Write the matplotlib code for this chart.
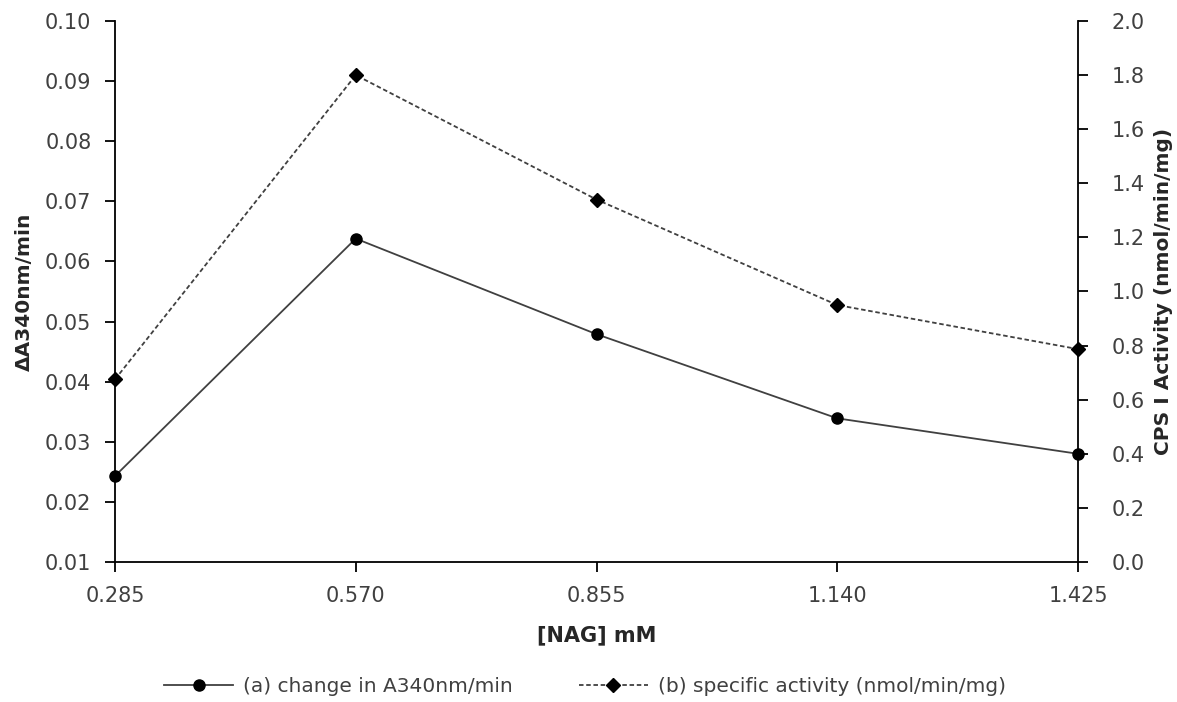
import matplotlib
matplotlib.use("Agg")
import matplotlib.pyplot as plt

plt.rcParams['font.family'] = ['DejaVu Sans']

nag_labels = ["0.285", "0.570", "0.855", "1.140", "1.425"]
delta_a340 = [0.0243, 0.0638, 0.0479, 0.0339, 0.0280]
specific_activity = [0.675, 1.80, 1.34, 0.95, 0.787]

W, H = 1177, 702
fig = plt.figure(figsize=(W/100, H/100), dpi=100)
L, R, T, B = 115, 1078, 21, 562
ax = fig.add_axes([L/W, 1 - B/H, (R-L)/W, (B-T)/H])
ax2 = ax.twinx()

x = list(range(len(nag_labels)))
l1, = ax.plot(x, delta_a340, color='#404040', lw=1.3, marker='o', markersize=8,
              markerfacecolor='black', markeredgecolor='black', zorder=3, clip_on=False)
l2, = ax2.plot(x, specific_activity, color='#404040', lw=1.3, ls=(0, (2.5, 1.5)),
               marker='D', markersize=7, markerfacecolor='black', markeredgecolor='black',
               zorder=3, clip_on=False)

ax.set_xlim(0, len(nag_labels) - 1)
ax.set_xticks(x)
ax.set_xticklabels(nag_labels)
ax.set_ylim(0.01, 0.10)
ax.set_yticks([0.01 * i for i in range(1, 11)])
ax.set_yticklabels([f"{0.01*i:.2f}" for i in range(1, 11)])
ax2.set_ylim(0.0, 2.0)
ax2.set_yticks([0.2 * i for i in range(11)])
ax2.set_yticklabels([f"{0.2*i:.1f}" for i in range(11)])

tick_color = '#404040'
for a in (ax, ax2):
    a.spines['top'].set_visible(False)
    for s in a.spines.values():
        s.set_linewidth(1.3)
        s.set_color('black')
    a.tick_params(direction='out', length=7, width=1.3, labelsize=15, colors='black',
                  labelcolor=tick_color)
ax.spines['right'].set_visible(False)
ax2.spines['left'].set_visible(False)
ax2.spines['bottom'].set_visible(False)
ax.tick_params(axis='x', pad=10)
ax.tick_params(axis='y', pad=10)
ax2.tick_params(axis='y', pad=17)

lab_color = '#262626'
ax.set_xlabel("[NAG] mM", fontsize=15, fontweight='bold', color=lab_color)
ax.set_ylabel("ΔA340nm/min", fontsize=14.5, fontweight='bold', color=lab_color)
ax2.set_ylabel("CPS I Activity (nmol/min/mg)", fontsize=14.5, fontweight='bold',
               color=lab_color, rotation=90)
ax.xaxis.set_label_coords(0.5, (B - 625) / (B - T))
ax.yaxis.set_label_coords((34 - L) / (R - L), 0.5)
ax2.yaxis.set_label_coords((1154 - L) / (R - L), 0.5)

fig.legend([l1, l2], ["(a) change in A340nm/min", "(b) specific activity (nmol/min/mg)"],
           loc='center', bbox_to_anchor=(585 / W, 1 - 687 / H), ncol=2, frameon=False,
           fontsize=14.5, handlelength=3.4, handletextpad=0.5, columnspacing=3.3,
           labelcolor=tick_color, borderpad=0, borderaxespad=0)

fig.savefig("out.png", dpi=100)
